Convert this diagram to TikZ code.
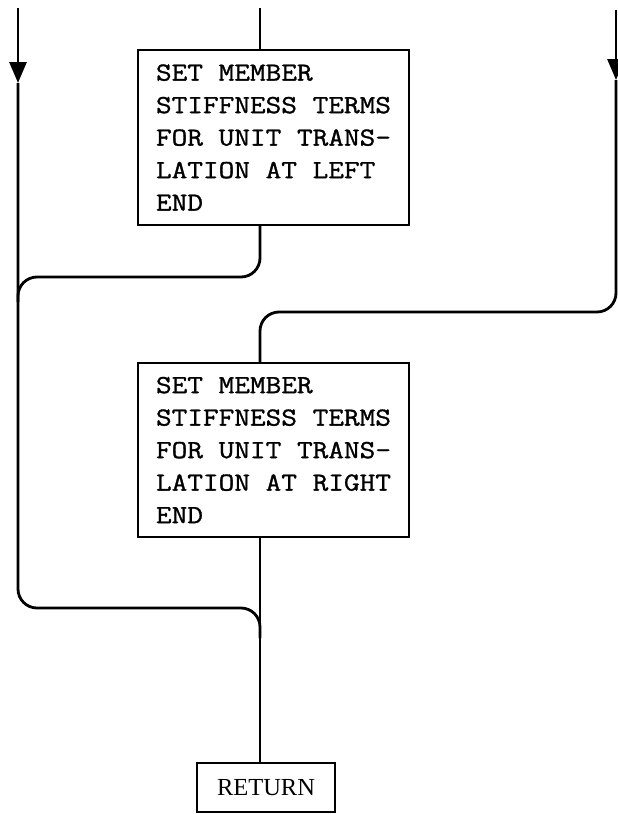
\documentclass[tikz,border=0pt]{standalone}
\usepackage{fontspec}
\usepackage{tikz}
\usetikzlibrary{positioning,arrows.meta}
\newfontfamily\typer[FakeStretch=1.17,FakeBold=1.2]{Latin Modern Mono}
\newfontfamily\printer{Liberation Serif}

\begin{document}
\begin{tikzpicture}[
  x=1pt, y=-1pt,
  box/.style={draw=black, line width=2pt, align=left, inner xsep=18pt, inner ysep=0pt,
    font=\typer\fontsize{26}{32.5}\selectfont},
  endbox/.style={draw=black, line width=2pt, minimum width=138pt, minimum height=49pt,
    font=\printer\fontsize{24.5}{26}\selectfont},
  flow/.style={line width=2.8pt, black, rounded corners=19pt},
  arr/.style={flow, -{Triangle[length=21pt, width=17pt]}}
]
\useasboundingbox (0,0) rectangle (618,814);
\node[box, minimum height=175pt] (b1) at (273.5,137.5) {SET MEMBER\\STIFFNESS TERMS\\FOR UNIT TRANS-\\LATION AT LEFT\\END};
\node[box, minimum height=174pt] (b2) at (273.5,450) {SET MEMBER\\STIFFNESS TERMS\\FOR UNIT TRANS-\\LATION AT RIGHT\\END};
\node[endbox] (ret) at (266,787.5) {RETURN};
\coordinate (top) at (260,8);
\coordinate (lin) at (18,8);
\coordinate (la) at (18,83);
\coordinate (rin) at (616,10);
\coordinate (ra) at (616,80);
\coordinate (j1) at (18,277);
\coordinate (j2) at (260,608);
\coordinate (j3) at (260,312);
\draw[flow] (top) -- (top |- b1.north);
\draw[arr] (lin) -- (la);
\draw[arr] (rin) -- (ra);
\draw[flow] (la) |- (j2) -- ++(0,30);
\draw[flow] (top |- b1.south) |- (j1) -- ++(0,25);
\draw[flow] (ra) |- (j3) -- (top |- b2.north);
\draw[flow] (top |- b2.south) -- (top |- ret.north);
\end{tikzpicture}
\end{document}
